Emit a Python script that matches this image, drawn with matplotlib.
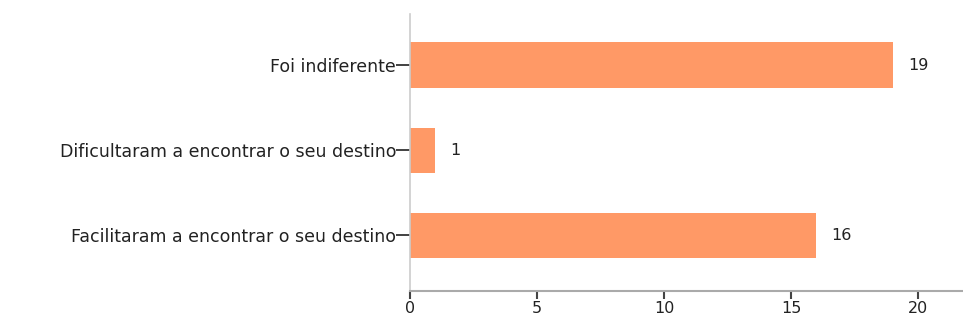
import matplotlib
matplotlib.use("Agg")
import matplotlib.pyplot as plt

categories = ["Facilitaram a encontrar o seu destino",
              "Dificultaram a encontrar o seu destino",
              "Foi indiferente"]
values = [16, 1, 19]
xticks = [0, 5, 10, 15, 20]

W, H = 963, 324
fig = plt.figure(figsize=(W / 100, H / 100), dpi=100)
ax = fig.add_axes([410 / W, (H - 291) / H, (W - 410) / W, (291 - 14) / H])

ypos = list(range(len(categories)))
bars = ax.barh(ypos, values, height=0.53, color="#FF9966", edgecolor="none")
for y, v in zip(ypos, values):
    ax.annotate(str(v), xy=(v, y), xytext=(11, 0), textcoords="offset points",
                va="center", ha="left", fontsize=11.5, color="#222222")

ax.set_xlim(0, (W - 410) / 25.4)
ax.set_ylim(-0.656, 2.60)
ax.set_yticks(ypos)
ax.set_yticklabels(categories, fontsize=12.5, color="#222222")
ax.set_xticks(xticks)
ax.set_xticklabels([str(t) for t in xticks], fontsize=11.5, color="#222222")

for s in ["top", "right"]:
    ax.spines[s].set_visible(False)
ax.spines["left"].set_color("#cccccc")
ax.spines["left"].set_linewidth(1.2)
ax.spines["bottom"].set_color("#aaaaaa")
ax.spines["bottom"].set_linewidth(1.5)
ax.tick_params(axis="y", length=10, width=1.3, color="#333333", pad=0)
ax.tick_params(axis="x", length=6, width=1.5, color="#444444", pad=1)

fig.savefig("out.png", dpi=100)
